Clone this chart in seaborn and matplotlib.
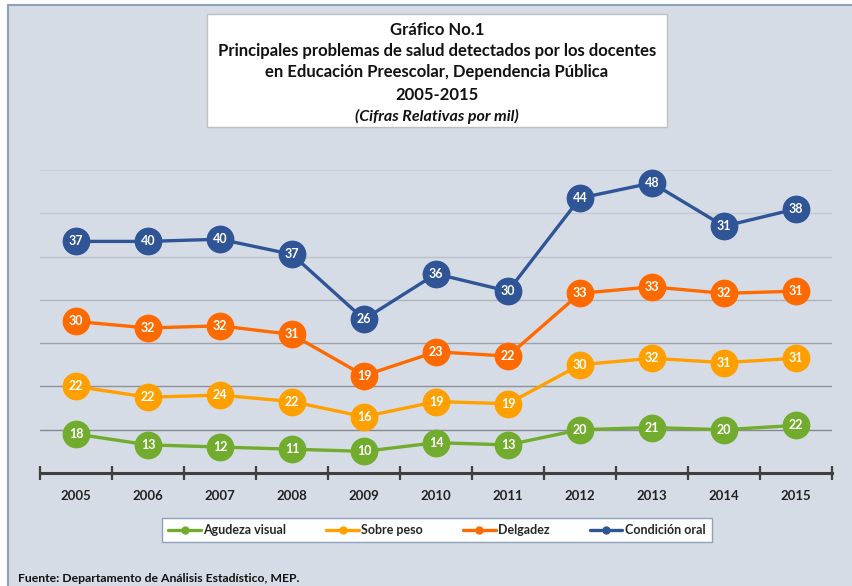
import numpy as np
import pandas as pd
import seaborn as sns
import matplotlib.pyplot as plt
from matplotlib.patches import Rectangle
from matplotlib.lines import Line2D

# data (values per mil, shown as labels; chart stacks them)
years = ["2005", "2006", "2007", "2008", "2009", "2010", "2011", "2012", "2013", "2014", "2015"]
series = ["Agudeza visual", "Sobre peso", "Delgadez", "Condición oral"]
agudeza = [18, 13, 12, 11, 10, 14, 13, 20, 21, 20, 22]
sobre_peso = [22, 22, 24, 22, 16, 19, 19, 30, 32, 31, 31]
delgadez = [30, 32, 32, 31, 19, 23, 22, 33, 33, 32, 31]
oral = [37, 40, 40, 37, 26, 36, 30, 44, 48, 31, 38]

colors = ["#72AC2E", "#FFA000", "#FF6A00", "#2F5597"]
bg = "#D6DCE5"

values = np.array([agudeza, sobre_peso, delgadez, oral])
stacked = values.cumsum(axis=0)

rows = []
for s, name in enumerate(series):
    for i, y in enumerate(years):
        rows.append({"year": i, "serie": name, "stack": stacked[s, i], "label": values[s, i]})
df = pd.DataFrame(rows)

sns.set_style("white")
plt.rcParams["font.family"] = ["Lato", "DejaVu Sans"]

fig = plt.figure(figsize=(8.53, 5.86), dpi=100)
fig.patch.set_facecolor("white")
fig.patches.append(Rectangle((8 / 853, -0.05), 1.1, 1 - 5 / 586 + 0.05, transform=fig.transFigure,
                             facecolor=bg, edgecolor="#8EA1BC", linewidth=1.5, zorder=-1))

ax = fig.add_axes([40 / 853, 1 - 473 / 586, 792 / 853, 0.591])
ax.set_zorder(1)
ax.set_facecolor(bg)

sns.lineplot(data=df, x="year", y="stack", hue="serie", hue_order=series, palette=colors,
             marker="o", markersize=20, markeredgewidth=0, linewidth=2.4, legend=False, ax=ax)

for _, r in df.iterrows():
    ax.text(r["year"], r["stack"], str(r["label"]), ha="center", va="center", color="white",
            fontsize=9, fontweight="bold", zorder=5)

ax.set_xlim(-0.5, 10.5)
ax.set_ylim(0, 160)
ax.set_yticks([20, 40, 60, 80, 100, 120, 140])
ax.set_yticklabels([])
ax.tick_params(axis="y", length=0)
ax.grid(axis="y", linewidth=1)
ax.set_axisbelow(True)
grid_cols = ["#85898F", "#8E9298", "#9EA3AA", "#AFB4BB", "#BCC1C8", "#C5CAD1", "#CCD1D8"]
for gl, c in zip(ax.get_ygridlines(), grid_cols):
    gl.set_color(c)

ax.set_xticks(np.arange(-0.5, 11, 1))
ax.set_xticklabels([])
ax.set_xticks(range(len(years)), minor=True)
ax.set_xticklabels(years, minor=True, fontsize=9.5, fontweight="bold", color="#222222")
ax.tick_params(axis="x", which="major", bottom=True, direction="inout", length=10, width=1.6,
               color="#404040")
ax.tick_params(axis="x", which="minor", bottom=True, length=0, pad=12)
for side in ["top", "right", "left"]:
    ax.spines[side].set_visible(False)
ax.spines["bottom"].set_color("#404040")
ax.spines["bottom"].set_linewidth(2.2)
ax.set_xlabel("")
ax.set_ylabel("")

# title box
fig.patches.append(Rectangle((207 / 853, 1 - 127 / 586), 460 / 853, 113 / 586, transform=fig.transFigure,
                             facecolor="white", edgecolor="#BFBFBF", linewidth=1, zorder=3))
title_lines = ["Gráfico No.1",
               "Principales problemas de salud detectados por los docentes",
               "en Educación Preescolar, Dependencia Pública",
               "2005-2015"]
for t, ypx in zip(title_lines, [30, 51, 72, 95]):
    fig.text(437 / 853, 1 - ypx / 586, t, ha="center", va="center", fontsize=12,
             fontweight="bold", color="#111111", zorder=4)
fig.text(437 / 853, 1 - 116 / 586, "(Cifras Relativas por mil)", ha="center", va="center",
         fontsize=11.5, fontweight="bold", fontstyle="italic", color="#111111", zorder=4)

# legend
handles = [Line2D([0], [0], color=c, linewidth=2.4, marker="o", markersize=5) for c in colors]
leg = fig.legend(handles, series, loc="center", bbox_to_anchor=(437 / 853, 1 - 530 / 586), ncol=4,
                 frameon=True, fancybox=False, edgecolor="#8EA1BC", facecolor="white", framealpha=1,
                 prop={"size": 9, "weight": "bold"}, handlelength=2.6, handletextpad=0.2,
                 columnspacing=3.2, borderpad=0.5)
leg.get_frame().set_linewidth(1)
leg.set_zorder(5)

fig.text(18 / 853, 1 - 578 / 586, "Fuente: Departamento de Análisis Estadístico, MEP.", ha="left",
         va="center", fontsize=8.8, fontweight="bold", color="#111111")

fig.savefig("out.png", dpi=100, facecolor=fig.get_facecolor())
